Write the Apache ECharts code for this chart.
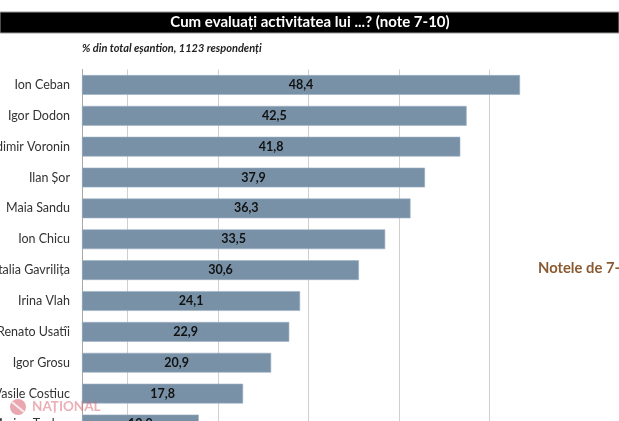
<!DOCTYPE html>
<html>
<head>
<meta charset="utf-8">
<script src="https://cdn.jsdelivr.net/npm/echarts@6/dist/echarts.min.js"></script>
<style>html,body{margin:0;padding:0;background:#fff;}#c{width:619px;height:421px;}</style>
</head>
<body>
<div id="c"></div>
<script>
var categories = ['Ion Ceban','Igor Dodon','Vladimir Voronin','Ilan Șor','Maia Sandu','Ion Chicu','Natalia Gavrilița','Irina Vlah','Renato Usatîi','Igor Grosu','Vasile Costiuc','Marina Tauber'];
var values = [48.4, 42.5, 41.8, 37.9, 36.3, 33.5, 30.6, 24.1, 22.9, 20.9, 17.8, 12.9];
var gridValues = [5, 15, 25, 35, 45];
var titleText = 'Cum evaluați activitatea lui ...? (note 7-10)';
var subtitleText = '% din total eșantion, 1123 respondenți';
var sideText = 'Notele de 7-10';

var chart = echarts.init(document.getElementById('c'));
var font = 'Lato, "Open Sans", sans-serif';
chart.setOption({
  animation: false,
  backgroundColor: '#ffffff',
  grid: { left: 82, right: 66.4, top: 69.5, bottom: -18.9, containLabel: false, outerBoundsMode: 'none' },
  xAxis: {
    type: 'value', min: 0, max: 52,
    axisLine: { show: false }, axisTick: { show: false }, axisLabel: { show: false },
    splitLine: { show: false }
  },
  yAxis: {
    type: 'category', inverse: true, data: categories,
    axisLine: { show: true, lineStyle: { color: '#a8a8a8', width: 1 } },
    axisTick: { show: false },
    axisLabel: { color: '#333', fontSize: 12.5, fontFamily: font, margin: 12 }
  },
  graphic: [
    { type: 'rect', shape: { x: 0, y: 12, width: 619, height: 21 }, style: { fill: '#000', stroke: '#999', lineWidth: 1 }, z: 10 },
    { type: 'text', x: 310, y: 22.5, style: { text: titleText, fill: '#fff', fontSize: 15, fontWeight: 'bold', fontFamily: font, align: 'center', verticalAlign: 'middle' }, z: 11 },
    { type: 'text', x: 82, y: 48, style: { text: subtitleText, fill: '#222', fontSize: 11, fontWeight: 'bold', fontStyle: 'italic', fontFamily: font, align: 'left', verticalAlign: 'middle' }, z: 11 },
    { type: 'text', x: 538, y: 268, style: { text: sideText, fill: '#8a5a32', fontSize: 14.8, fontWeight: 'bold', fontFamily: font, align: 'left', verticalAlign: 'middle' }, z: 11 },
    { type: 'circle', shape: { cx: 18, cy: 407, r: 8 }, style: { fill: 'rgba(215,95,110,0.55)' }, z: 12 },
    { type: 'line', shape: { x1: 12, y1: 402, x2: 24, y2: 412 }, style: { stroke: 'rgba(255,255,255,0.8)', lineWidth: 2 }, z: 13 },
    { type: 'text', x: 32, y: 407, style: { text: 'NAȚIONAL', fill: 'rgba(215,95,110,0.5)', fontSize: 13.5, fontWeight: 'bold', fontFamily: font, align: 'left', verticalAlign: 'middle' }, z: 12 }
  ],
  series: [{
    type: 'bar',
    data: values,
    barWidth: '64%',
    itemStyle: { color: '#7891a7', borderColor: '#9cb0c2', borderWidth: 0.6 },
    label: {
      show: true, position: 'inside', color: '#111', fontSize: 12.5, fontWeight: 'bold', fontFamily: font,
      formatter: function (p) { return p.value.toFixed(1).replace('.', ','); }
    },
    markLine: {
      silent: true, symbol: 'none', label: { show: false },
      lineStyle: { color: '#cfcfcf', width: 1, type: 'solid' },
      data: gridValues.map(function (v) { return { xAxis: v }; }),
      z: 0
    },
    z: 2
  }]
});
</script>
</body>
</html>
